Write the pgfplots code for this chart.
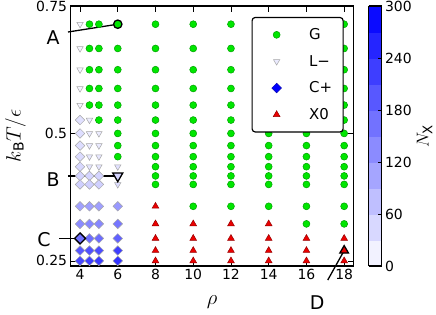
\documentclass[border=0pt]{standalone}
\usepackage{pgfplots}
\pgfplotsset{compat=1.18}
\usepackage{fontspec}
\setmainfont{DejaVu Sans}
\definecolor{gfill}{RGB}{0,230,0}
\definecolor{gedge}{RGB}{0,160,0}
\definecolor{rfill}{RGB}{235,0,0}
\definecolor{redge}{RGB}{150,0,0}
\begin{document}
\begin{tikzpicture}
\begin{axis}[
  at={(0,0)}, anchor=south west,
  scale only axis, width=283bp, height=260bp,
  xmin=3.5, xmax=18.5, ymin=0.24, ymax=0.75,
  xtick={4,6,...,18}, ytick={0.25,0.5,0.75},
  yticklabels={0.25,0.5,0.75},
  /pgf/number format/assume math mode=true,
  tick label style={font=\fontsize{14}{16}\selectfont},
  tick align=inside, major tick length=6bp,
  tick style={line width=0.8pt, black},
  axis line style={line width=1.5pt},
  xlabel={$\rho$}, ylabel={$k_\mathrm{B}T/\epsilon$},
  label style={font=\fontsize{20}{22}\selectfont},
  xlabel style={at={(axis description cs:0.5,-0.14)}, anchor=center},
  ylabel style={at={(axis description cs:-0.195,0.5)}, anchor=center},
  clip=false,
  colormap={wb}{rgb255(0)=(255,255,255) rgb255(1)=(0,0,255)},
  point meta min=0, point meta max=300,
  colorbar, colorbar sampled,
  colorbar style={
    at={(parent axis.north east)}, anchor=north west, xshift=6.5bp,
    scale only axis, width=13bp, height=260bp,
    samples=11,
    ytick={0,60,...,300},
    tick align=inside, ytick pos=right, major tick length=4bp,
    yticklabel pos=right,
    tick label style={font=\fontsize{14}{16}\selectfont},
    /pgf/number format/assume math mode=true,
    axis line style={line width=1.5pt},
    ylabel={$N_\mathrm{X}$},
    ylabel style={at={(axis description cs:4.3,0.5)}, anchor=center, font=\fontsize{19}{21}\selectfont},
  },
  legend style={at={(0.965,0.958)}, anchor=north east, draw=black, line width=1.2pt,
    rounded corners=3bp, font=\fontsize{15}{17}\selectfont,
    inner xsep=8.5bp, inner ysep=4bp, nodes={inner xsep=2.5bp, inner ysep=0bp},
    column sep=0bp, row sep=0bp},
  legend cell align=left,
  legend image code/.code={\path[draw=none, fill=none] (0bp,-13.3bp) rectangle (46bp,13.3bp); \draw[#1] plot coordinates {(16bp,0bp)};},
]
\addlegendimage{only marks, mark=*, mark size=3.5pt, mark options={fill=gfill, draw=gedge, line width=0.5pt}}
\addlegendentry{G}
\addlegendimage{only marks, mark=triangle*, mark size=3.7pt, mark options={rotate=180, fill=blue!8, draw=black!35, line width=0.5pt}}
\addlegendentry{L−}
\addlegendimage{only marks, mark=square*, mark size=3.4pt, mark options={rotate=45, fill=blue, draw=blue!70!black, line width=0.5pt}}
\addlegendentry{C+}
\addlegendimage{only marks, mark=triangle*, mark size=3.9pt, mark options={fill=rfill, draw=redge, line width=0.5pt}}
\addlegendentry{X0}

% annotation lines
\draw[line width=1.3pt] (axis cs:3.362,0.699) -- (axis cs:6,0.7143);
\draw[line width=1.3pt] (axis cs:3.362,0.4167) -- (axis cs:6,0.4167);
\draw[line width=1.3pt] (axis cs:2.9,0.2941) -- (axis cs:4,0.2941);
\draw[line width=1.3pt] (axis cs:17.13,0.2125) -- (axis cs:18,0.2703);
\node[font=\fontsize{19}{21}\selectfont] at (axis cs:2.567,0.689) {A};
\node[font=\fontsize{19}{21}\selectfont] at (axis cs:2.567,0.409) {B};
\node[font=\fontsize{19}{21}\selectfont] at (axis cs:2.089,0.291) {C};
\node[font=\fontsize{19}{21}\selectfont] at (axis cs:16.567,0.169) {D};

% G phase
\addplot[forget plot, only marks, mark=*, mark size=3.5pt, mark options={fill=gfill, draw=gedge, line width=0.5pt}] table {
r t
4.5 0.7143
4.5 0.6667
4.5 0.6250
4.5 0.5882
4.5 0.5556
5 0.7143
5 0.6667
5 0.6250
5 0.5882
5 0.5556
5 0.5263
6 0.6667
6 0.6250
6 0.5882
6 0.5556
6 0.5263
6 0.5000
6 0.4762
6 0.4545
8 0.7143
8 0.6667
8 0.6250
8 0.5882
8 0.5556
8 0.5263
8 0.5000
8 0.4762
8 0.4545
8 0.4348
8 0.4167
8 0.4000
10 0.7143
10 0.6667
10 0.6250
10 0.5882
10 0.5556
10 0.5263
10 0.5000
10 0.4762
10 0.4545
10 0.4348
10 0.4167
10 0.4000
10 0.3571
12 0.7143
12 0.6667
12 0.6250
12 0.5882
12 0.5556
12 0.5263
12 0.5000
12 0.4762
12 0.4545
12 0.4348
12 0.4167
12 0.4000
12 0.3571
14 0.7143
14 0.6667
14 0.6250
14 0.5882
14 0.5556
14 0.5263
14 0.5000
14 0.4762
14 0.4545
14 0.4348
14 0.4167
14 0.4000
14 0.3571
16 0.7143
16 0.6667
16 0.6250
16 0.5882
16 0.5556
16 0.5263
16 0.5000
16 0.4762
16 0.4545
16 0.4348
16 0.4167
16 0.4000
16 0.3571
16 0.3226
18 0.7143
18 0.6667
18 0.6250
18 0.5882
18 0.5556
18 0.5263
18 0.5000
18 0.4762
18 0.4545
18 0.4348
18 0.4167
18 0.4000
18 0.3571
18 0.3226
};

% X0 phase
\addplot[forget plot, only marks, mark=triangle*, mark size=3.9pt, mark options={fill=rfill, draw=redge, line width=0.5pt}] table {
r t
8 0.3571
8 0.3226
8 0.2941
8 0.2703
8 0.2500
10 0.3226
10 0.2941
10 0.2703
10 0.2500
12 0.3226
12 0.2941
12 0.2703
12 0.2500
14 0.3226
14 0.2941
14 0.2703
14 0.2500
16 0.2941
16 0.2703
16 0.2500
18 0.2941
18 0.2500
};

% L- phase
\addplot[forget plot, scatter, only marks, scatter src=explicit, mark=triangle*, mark size=3.7pt,
  mark options={rotate=180, line width=0.5pt},
  scatter/use mapped color={draw=black!35, fill=mapped color}] table[meta=n] {
r t n
4 0.7143 12
4 0.6667 12
4 0.6250 12
4 0.5882 12
4 0.5556 12
4.5 0.5263 20
4.5 0.5000 22
4.5 0.4762 25
4.5 0.4545 28
4.5 0.4348 30
5 0.5000 22
5 0.4762 25
5 0.4545 28
5 0.4348 30
6 0.4348 35
6 0.4000 40
};

% C+ phase
\addplot[forget plot, scatter, only marks, scatter src=explicit, mark=square*, mark size=3.4pt,
  mark options={rotate=45, line width=0.5pt},
  scatter/use mapped color={draw=black!35, fill=mapped color}] table[meta=n] {
r t n
4 0.5263 35
4 0.5000 38
4 0.4762 40
4 0.4545 42
4 0.4348 45
4 0.4167 50
4 0.4000 55
4 0.3571 110
4 0.3226 135
4 0.2703 195
4 0.2500 215
4.5 0.4167 50
4.5 0.4000 55
4.5 0.3571 112
4.5 0.3226 140
4.5 0.2941 170
4.5 0.2703 205
4.5 0.2500 225
5 0.4167 50
5 0.4000 55
5 0.3571 112
5 0.3226 140
5 0.2941 172
5 0.2703 208
5 0.2500 230
6 0.3571 120
6 0.3226 160
6 0.2941 185
6 0.2703 225
6 0.2500 240
};

% highlighted states
\addplot[forget plot, only marks, mark=*, mark size=4.2pt, mark options={fill=gfill, draw=black, line width=1.3pt}] coordinates {(6,0.7143)};
\addplot[forget plot, scatter, only marks, scatter src=explicit, mark=triangle*, mark size=5.8pt,
  mark options={rotate=180, line width=1.3pt},
  scatter/use mapped color={draw=black, fill=mapped color}] table[meta=n] {
r t n
6 0.4167 50
};
\addplot[forget plot, scatter, only marks, scatter src=explicit, mark=square*, mark size=3.9pt,
  mark options={rotate=45, line width=1.3pt},
  scatter/use mapped color={draw=black, fill=mapped color}] table[meta=n] {
r t n
4 0.2941 165
};
\addplot[forget plot, only marks, mark=triangle*, mark size=5pt, mark options={fill=rfill, draw=black, line width=1.3pt}] coordinates {(18,0.2703)};
\end{axis}
\pgfresetboundingbox
\path[use as bounding box] (-70.6bp,-49bp) rectangle (365.4bp,266bp);
\end{tikzpicture}
\end{document}
